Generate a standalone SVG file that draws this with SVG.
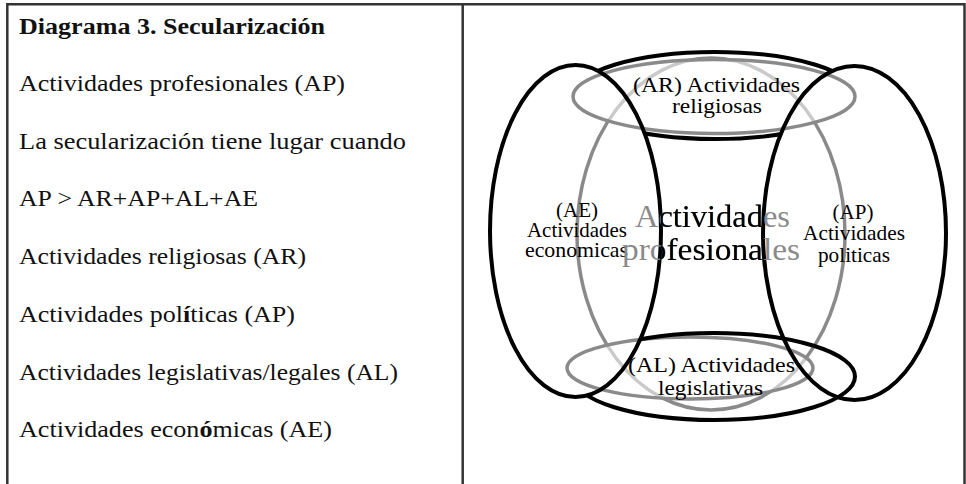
<svg xmlns="http://www.w3.org/2000/svg" width="966" height="484" viewBox="0 0 966 484">
<style>
  .bd { stroke: #333; stroke-width: 2.5; fill: none; }
  .lt { font-family: "Liberation Serif", "Times New Roman", serif; font-size: 24px; fill: #111; }
  .lb { font-family: "Liberation Serif", "Times New Roman", serif; font-size: 24px; font-weight: bold; fill: #111; }
  .dl { font-family: "Liberation Serif", "Times New Roman", serif; font-size: 21px; fill: #000; text-anchor: middle; }
  .big { font-family: "Liberation Serif", "Times New Roman", serif; font-size: 31px; text-anchor: middle; }
  .blk { fill: none; stroke: #000; stroke-width: 4; }
  .gry { fill: none; stroke: #8a8a8a; stroke-width: 3.5; }
  .veil { fill: #fff; fill-opacity: 0.55; stroke: none; }
</style>
<defs>
  <mask id="mSides" maskUnits="userSpaceOnUse" x="0" y="0" width="966" height="484">
    <rect x="0" y="0" width="966" height="484" fill="#fff"/>
    <ellipse cx="575.5" cy="231" rx="85.5" ry="166" fill="#000"/>
    <ellipse cx="854.5" cy="233" rx="91.5" ry="167" fill="#000"/>
  </mask>
  <mask id="mLeft" maskUnits="userSpaceOnUse" x="0" y="0" width="966" height="484">
    <rect x="0" y="0" width="966" height="484" fill="#fff"/>
    <ellipse cx="575.5" cy="231" rx="85.5" ry="166" fill="#000"/>
  </mask>
</defs>
<rect width="966" height="484" fill="#fff"/>

<g id="table">
  <line class="bd" x1="7.3" y1="4.3" x2="964.5" y2="4.3"/>
  <line class="bd" x1="7.3" y1="3" x2="7.3" y2="484"/>
  <line class="bd" x1="462.7" y1="3" x2="462.7" y2="484"/>
  <line class="bd" x1="964.5" y1="3" x2="964.5" y2="484"/>
</g>

<g id="left-text">
  <text class="lb" x="19" y="34" textLength="306" lengthAdjust="spacingAndGlyphs">Diagrama 3. Secularización</text>
  <text class="lt" x="19" y="91" textLength="326" lengthAdjust="spacingAndGlyphs">Actividades profesionales (AP)</text>
  <text class="lt" x="19" y="148.5" textLength="387" lengthAdjust="spacingAndGlyphs">La secularización tiene lugar cuando</text>
  <text class="lt" x="19" y="206" textLength="239" lengthAdjust="spacingAndGlyphs">AP &gt; AR+AP+AL+AE</text>
  <text class="lt" x="19" y="264" textLength="287" lengthAdjust="spacingAndGlyphs">Actividades religiosas (AR)</text>
  <text class="lt" x="19" y="322" textLength="276" lengthAdjust="spacingAndGlyphs">Actividades pol<tspan font-weight="bold">í</tspan>ticas (AP)</text>
  <text class="lt" x="19" y="380" textLength="379" lengthAdjust="spacingAndGlyphs">Actividades legislativas/legales (AL)</text>
  <text class="lt" x="19" y="437" textLength="313" lengthAdjust="spacingAndGlyphs">Actividades econ<tspan font-weight="bold">ó</tspan>micas (AE)</text>
</g>

<g id="connectors">
  <g id="ap-prof-shape">
    <ellipse class="gry" cx="711" cy="234" rx="134" ry="176"/>
  </g>
  <g id="ar-shape">
    <ellipse class="veil" cx="714" cy="96.5" rx="141" ry="37"/>
    <ellipse class="gry" cx="714" cy="96.5" rx="141" ry="37"/>
    <ellipse class="blk" cx="715" cy="95.5" rx="142" ry="43.5" mask="url(#mSides)"/>
  </g>
  <g id="al-shape">
    <ellipse class="veil" cx="690" cy="368" rx="123" ry="31"/>
    <ellipse class="gry" cx="690" cy="368" rx="123" ry="31"/>
    <ellipse class="blk" cx="714" cy="376.5" rx="141" ry="43.5" mask="url(#mLeft)"/>
  </g>
  <g id="ae-shape">
    <ellipse class="blk" cx="575.5" cy="231" rx="85.5" ry="166"/>
  </g>
  <g id="ap-pol-shape">
    <ellipse class="blk" cx="854.5" cy="233" rx="91.5" ry="167"/>
  </g>
</g>

<g id="node-ar">
  <text class="dl" x="716.5" y="92" textLength="167" lengthAdjust="spacingAndGlyphs">(AR) Actividades</text>
  <text class="dl" x="717" y="113" textLength="90" lengthAdjust="spacingAndGlyphs">religiosas</text>
</g>
<g id="node-ae">
  <text class="dl" x="577" y="217">(AE)</text>
  <text class="dl" x="577" y="237" textLength="100" lengthAdjust="spacingAndGlyphs">Actividades</text>
  <text class="dl" x="576.5" y="257" textLength="103" lengthAdjust="spacingAndGlyphs">economicas</text>
</g>
<g id="node-ap">
  <text class="dl" x="853" y="219">(AP)</text>
  <text class="dl" x="854" y="240" textLength="102" lengthAdjust="spacingAndGlyphs">Actividades</text>
  <text class="dl" x="854" y="262" textLength="72" lengthAdjust="spacingAndGlyphs">politicas</text>
</g>
<g id="node-al">
  <text class="dl" x="711.5" y="372" textLength="167" lengthAdjust="spacingAndGlyphs">(AL) Actividades</text>
  <text class="dl" x="710.5" y="395" textLength="105" lengthAdjust="spacingAndGlyphs">legislativas</text>
</g>
<g id="node-prof">
  <g fill="#8a8a8a">
    <text class="big" x="712.5" y="227" textLength="155" lengthAdjust="spacingAndGlyphs">Actividades</text>
    <text class="big" x="711" y="260" textLength="178" lengthAdjust="spacingAndGlyphs">profesionales</text>
  </g>
  <g fill="#000" mask="url(#mSides)">
    <text class="big" x="712.5" y="227" textLength="155" lengthAdjust="spacingAndGlyphs">Actividades</text>
    <text class="big" x="711" y="260" textLength="178" lengthAdjust="spacingAndGlyphs">profesionales</text>
  </g>
</g>
</svg>
